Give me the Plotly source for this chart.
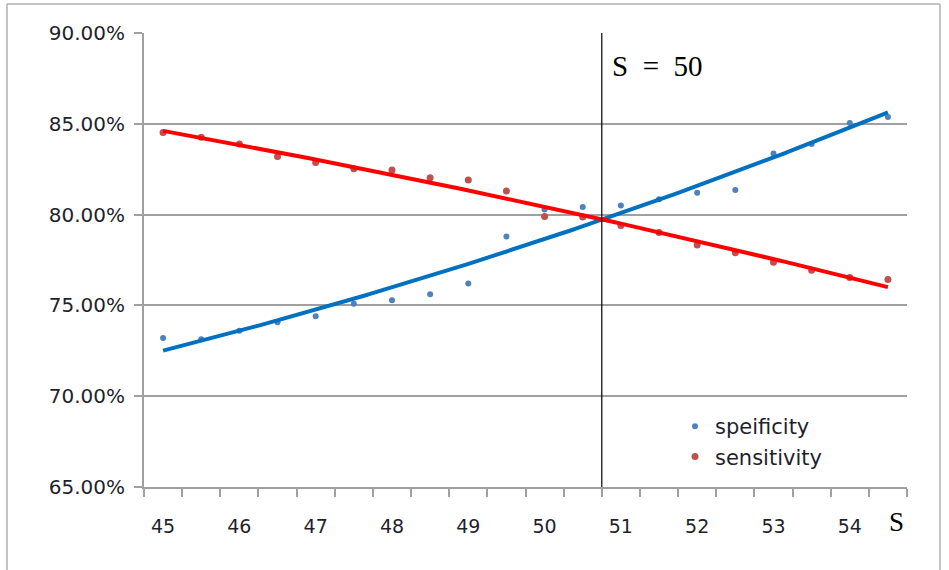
import numpy as np
import plotly.graph_objects as go

# ---- data ----
s_values = [45, 45.5, 46, 46.5, 47, 47.5, 48, 48.5, 49, 49.5,
            50, 50.5, 51, 51.5, 52, 52.5, 53, 53.5, 54, 54.5]
speificity = [73.20, 73.14, 73.60, 74.07, 74.40, 75.09, 75.28, 75.61, 76.20, 78.79,
              80.28, 80.42, 80.50, 80.85, 81.20, 81.35, 83.37, 83.89, 85.05, 85.37]
sensitivity = [84.52, 84.26, 83.89, 83.20, 82.87, 82.53, 82.45, 82.03, 81.90, 81.30,
               79.90, 79.87, 79.40, 79.02, 78.33, 77.90, 77.37, 76.94, 76.53, 76.42]
x_tick_labels = ["45", "46", "47", "48", "49", "50", "51", "52", "53", "54"]
y_ticks = [65, 70, 75, 80, 85, 90]
s_marker = 50.75
s_marker_label = "S\u2002=\u200250"

# ---- layout constants ----
W, H = 949, 570
L, R, T, B = 144, 907, 33, 487
GRAY = "#a0a0a0"
TXT = "#1f1f2e"

x = np.array(s_values)
spe = np.array(speificity) / 100
sen = np.array(sensitivity) / 100

# polynomial (order 2) trendlines fitted to the data, as in the spreadsheet chart
xf = np.linspace(x.min(), x.max(), 120)
spe_fit = np.polyval(np.polyfit(x, spe, 2), xf)
sen_fit = np.polyval(np.polyfit(x, sen, 2), xf)

fig = go.Figure()
fig.add_trace(go.Scatter(x=x, y=spe, mode="markers", name="speificity",
                         marker=dict(color="#4f81bd", size=6)))
fig.add_trace(go.Scatter(x=x, y=sen, mode="markers", name="sensitivity",
                         marker=dict(color="#c0504d", size=7)))
fig.add_trace(go.Scatter(x=xf, y=spe_fit, mode="lines", showlegend=False,
                         line=dict(color="#0070c0", width=4), hoverinfo="skip"))
fig.add_trace(go.Scatter(x=xf, y=sen_fit, mode="lines", showlegend=False,
                         line=dict(color="#ff0000", width=4), hoverinfo="skip"))

boundaries = [44.75 + 0.5 * i for i in range(21)]

fig.update_layout(
    width=W, height=H,
    margin=dict(l=L, r=W - R, t=T, b=H - B, pad=0),
    paper_bgcolor="white", plot_bgcolor="white",
    font=dict(family="DejaVu Sans", color=TXT, size=19),
    xaxis=dict(
        range=[44.75, 54.75], tickmode="array",
        tickvals=[float(v) for v in x_tick_labels], ticktext=x_tick_labels,
        ticks="", showgrid=False, zeroline=False,
        showline=True, linecolor=GRAY, linewidth=2,
        tickfont=dict(size=19, family="DejaVu Sans", color=TXT),
        ticklabelstandoff=21,
        minor=dict(tickmode="array", tickvals=boundaries, ticks="outside",
                   ticklen=8, tickcolor=GRAY, tickwidth=1.5, showgrid=False),
    ),
    yaxis=dict(
        range=[0.65, 0.90], tickmode="array", tickvals=[v / 100 for v in y_ticks],
        tickformat=".2%", ticks="outside", ticklen=8, tickcolor=GRAY, tickwidth=1.5,
        showgrid=True, gridcolor=GRAY, gridwidth=2, zeroline=False,
        showline=True, linecolor=GRAY, linewidth=2,
        tickfont=dict(size=20, family="DejaVu Sans", color=TXT),
        ticklabelstandoff=5,
    ),
    legend=dict(x=(675 - L) / (R - L), y=(B - 406) / (B - T), xanchor="left", yanchor="top",
                bgcolor="rgba(0,0,0,0)", font=dict(size=21, family="DejaVu Sans", color=TXT),
                itemsizing="trace", tracegroupgap=0),
    showlegend=True,
)

# S marker line and labels
fig.add_shape(type="line", xref="x", yref="paper", x0=s_marker, x1=s_marker, y0=0, y1=1,
              line=dict(color="black", width=1.2), layer="above")
fig.add_annotation(xref="paper", yref="paper", x=(610 - L) / (R - L), y=(B - 66) / (B - T),
                   text=s_marker_label, showarrow=False, xanchor="left", yanchor="middle",
                   font=dict(family="Liberation Serif", size=29, color="black"))
fig.add_annotation(xref="paper", yref="paper", x=(896 - L) / (R - L), y=(B - 522) / (B - T),
                   text="S", showarrow=False, xanchor="center", yanchor="middle",
                   font=dict(family="Liberation Serif", size=27, color="black"))

# outer chart frame
fx0, fx1 = (7 - L) / (R - L), (940 - L) / (R - L)
fy_top, fy_bot = (B - 4) / (B - T), (B - 600) / (B - T)
for (a, b, c, d) in [(fx0, fy_bot, fx0, fy_top), (fx0, fy_top, fx1, fy_top), (fx1, fy_top, fx1, fy_bot)]:
    fig.add_shape(type="line", xref="paper", yref="paper", x0=a, y0=b, x1=c, y1=d,
                  line=dict(color="#b0b0b0", width=1.5))

fig.write_html("out.html", config={"displayModeBar": False},
               post_script="document.body.style.margin='0';document.body.style.overflow='hidden';")
